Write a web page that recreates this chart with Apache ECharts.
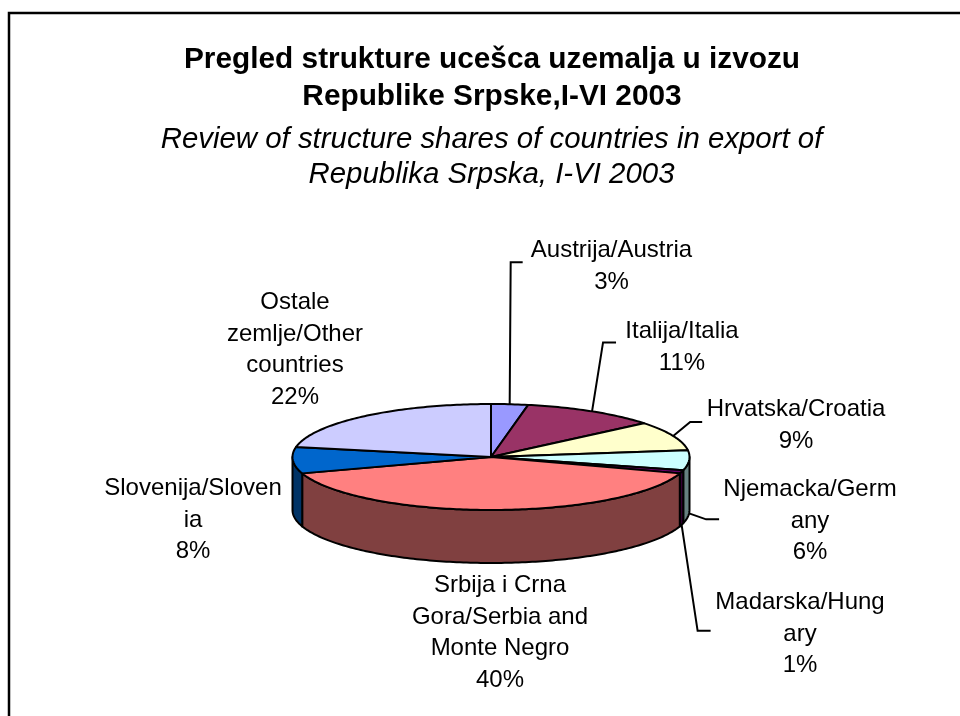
<!DOCTYPE html>
<html>
<head>
<meta charset="utf-8">
<style>html,body{margin:0;padding:0;background:#fff}#c{width:960px;height:716px}</style>
<script src="https://cdn.jsdelivr.net/npm/echarts@6/dist/echarts.min.js"></script>
</head>
<body>
<div id="c"></div>
<script>
// ---- data ----
const titleBold = 'Pregled strukture ucešca uzemalja u izvozu\nRepublike Srpske,I-VI 2003';
const titleItalic = 'Review of structure shares of countries in export of\nRepublika Srpska, I-VI 2003';
const categories = ['Austrija/Austria', 'Italija/Italia', 'Hrvatska/Croatia', 'Njemacka/Germ\nany', 'Madarska/Hung\nary', 'Srbija i Crna\nGora/Serbia and\nMonte Negro', 'Slovenija/Sloven\nia', 'Ostale\nzemlje/Other\ncountries'];
const shares = [3, 11, 9, 6, 1, 40, 8, 22];

// ---- styles / layout ----
const topColors = ['#9999FF', '#993366', '#FFFFCC', '#CCFFFF', '#660066', '#FF8080', '#0066CC', '#CCCCFF'];
const sideColors = ['#4D4D80', '#4D1A33', '#808066', '#668080', '#330033', '#804040', '#003366', '#666680'];
const labelCentres = [[611.5, 235], [682, 316], [796, 394], [810, 474], [800, 587], [500, 570], [193, 473], [295, 287]];
const leaderBends = [[[1, -142], [13, -142]], [[11, -69], [24, -69]], [[17, -14], [29, -14]], [[17, 6], [30, 6]], [[16, 106], [29, 106]], null, null, null];
const cx = 491, cy = 457, rx = 198.5, ry = 53, depth = 53;
const sans = '"Liberation Sans", Arial, sans-serif';

const total = shares.reduce((a, b) => a + b, 0);
const starts = [];
shares.reduce((acc, v, i) => { starts[i] = acc; return acc + v; }, 0);
const ang = pct => pct / total * 2 * Math.PI;
const ptAt = (a, dy) => [cx + rx * Math.sin(a), cy - ry * Math.cos(a) + (dy || 0)];

function arc(a0, a1, dy) {
  const n = Math.max(2, Math.ceil((a1 - a0) / (Math.PI / 180)));
  const pts = [];
  for (let i = 0; i <= n; i++) pts.push(ptAt(a0 + (a1 - a0) * i / n, dy));
  return pts;
}

function renderItem(params, api) {
  const i = params.dataIndex;
  const v = api.value(1), s = api.value(0);
  const a0 = ang(s), a1 = ang(s + v), mid = (a0 + a1) / 2;
  const children = [];
  // visible rim: the front half of the disc
  const f0 = Math.max(a0, Math.PI / 2), f1 = Math.min(a1, 3 * Math.PI / 2);
  if (f1 > f0) {
    children.push({
      type: 'polygon',
      shape: { points: arc(f0, f1, 0).concat(arc(f0, f1, depth).reverse()) },
      style: { fill: sideColors[i], stroke: '#000', lineWidth: 2, lineJoin: 'round' }
    });
  }
  children.push({
    type: 'polygon',
    shape: { points: [[cx, cy]].concat(arc(a0, a1, 0)) },
    style: { fill: topColors[i], stroke: '#000', lineWidth: 2, lineJoin: 'round' }
  });
  if (leaderBends[i]) {
    const front = mid > Math.PI / 2 && mid < 3 * Math.PI / 2;
    const p = ptAt(mid, front ? depth : 0);
    children.push({
      type: 'polyline',
      shape: { points: [p].concat(leaderBends[i].map(o => [p[0] + o[0], p[1] + o[1]])) },
      style: { fill: null, stroke: '#000', lineWidth: 2 }
    });
  }
  children.push({
    type: 'text',
    style: {
      text: api.value(2) + '\n' + v + '%',
      x: labelCentres[i][0], y: labelCentres[i][1],
      textAlign: 'center', textVerticalAlign: 'top',
      font: '24px ' + sans, lineHeight: 31.5, fill: '#000'
    }
  });
  return { type: 'group', children };
}

const chart = echarts.init(document.getElementById('c'), null, { renderer: 'canvas' });
chart.setOption({
  animation: false,
  backgroundColor: '#fff',
  title: [
    { text: titleBold, left: 487, top: 36, textAlign: 'center',
      textStyle: { fontFamily: sans, fontWeight: 'bold', fontStyle: 'normal', fontSize: 29.8, lineHeight: 37, color: '#000' } },
    { text: titleItalic, left: 486.5, top: 117, textAlign: 'center',
      textStyle: { fontFamily: sans, fontWeight: 'normal', fontStyle: 'italic', fontSize: 29.4, lineHeight: 35, color: '#000' } }
  ],
  graphic: [{
    type: 'polyline', silent: true,
    shape: { points: [[9, 716], [9, 13], [960, 13]] },
    style: { fill: null, stroke: '#000', lineWidth: 2.5 }
  }],
  series: [{
    type: 'custom',
    coordinateSystem: 'none',
    silent: true,
    renderItem,
    data: shares.map((v, i) => [starts[i], v, categories[i]])
  }]
});
</script>
</body>
</html>
